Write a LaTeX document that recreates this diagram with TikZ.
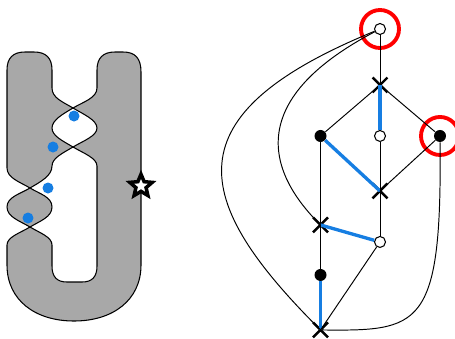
\documentclass[tikz,border=0pt]{standalone}
\usepackage{tikz}
\usetikzlibrary{positioning,shapes.misc,shapes.geometric,backgrounds}
\definecolor{shapegray}{RGB}{168,168,168}
\definecolor{edgeblue}{RGB}{22,126,226}
\tikzset{
  wdot/.style ={circle,draw,fill=white,inner sep=0pt,minimum size=2.2mm,
                line width=0.6pt},
  bdot/.style ={circle,fill=black,inner sep=0pt,minimum size=2.4mm},
  xmark/.style={cross out,draw,inner sep=0pt,minimum size=2.5mm,
                line width=1.4pt},
  ring/.style ={circle,draw=red,inner sep=0pt,minimum size=7.6mm,
                line width=2.2pt},
  pdot/.style ={circle,fill=edgeblue,inner sep=0pt,minimum size=2.2mm},
  mark5/.style={star,star points=5,star point ratio=2.2,draw,fill=white,
                inner sep=0pt,minimum size=4.7mm,line width=2pt},
  ln/.style   ={line width=0.55pt},
  bln/.style  ={draw=edgeblue,line width=1.9pt},
  blob/.style ={fill=shapegray,draw=black,line width=0.6pt},
}

\begin{document}
\begin{tikzpicture}[x=0.02cm,y=-0.02cm,on grid]
\useasboundingbox (0,0) rectangle (455,338);

% ---- left: pinched surface ---------------------------------------------
% upper left column
\draw[blob] (7,168) -- (7,70) .. controls (7,58) and (13,52) .. (25,52)
  -- (34,52) .. controls (46,52) and (52,58) .. (52,70) -- (52,88)
  .. controls (52,98) and (63,102) .. (73,108)
  .. controls (63,114) and (52,120) .. (52,128)
  .. controls (52,136) and (63,141) .. (73,147)
  .. controls (63,153) and (52,158) .. (52,166)
  .. controls (52,176) and (40,182) .. (30,188)
  .. controls (20,182) and (7,178) .. cycle;
% small lobe
\draw[blob] (30,188) .. controls (40,194) and (52,197) .. (52,207)
  .. controls (52,217) and (40,221) .. (30,227)
  .. controls (20,221) and (7,217) .. (7,207)
  .. controls (7,197) and (20,194) .. cycle;
% right column and bottom U
\draw[blob] (73,108) .. controls (83,102) and (97,98) .. (97,88) -- (97,70)
  .. controls (97,58) and (103,52) .. (115,52) -- (123,52)
  .. controls (135,52) and (141,58) .. (141,72) -- (141,265)
  .. controls (141,300) and (113,321) .. (74,321)
  .. controls (35,321) and (7,300) .. (7,265) -- (7,245)
  .. controls (7,237) and (20,233) .. (30,227)
  .. controls (40,233) and (52,237) .. (52,245) -- (52,266)
  .. controls (52,277) and (57,282) .. (67,282) -- (82,282)
  .. controls (92,282) and (97,277) .. (97,266) -- (97,166)
  .. controls (97,158) and (83,153) .. (73,147)
  .. controls (83,141) and (97,136) .. (97,128)
  .. controls (97,120) and (83,114) .. cycle;

\node[pdot] (d1) at (74,116) {};
\node[pdot] (d2) at (53,147) {};
\node[pdot] (d3) at (48,188) {};
\node[pdot] (d4) at (28,218) {};
\node[mark5] (st) at (141,186) {};

% ---- right: graph -----------------------------------------------------
\node[wdot] (TOP) at (380,29) {};
\node[xmark,below=1.12cm of TOP] (XA) {};
\node[wdot,below=1.02cm of XA] (WM) {};
\node[bdot,left=1.19cm of WM] (BL) {};
\node[bdot,right=1.2cm of WM] (BR) {};
\node[xmark,below=1.1cm of WM] (XB) {};
\node[wdot,below=1.02cm of XB] (WL) {};
\node[xmark,below=1.78cm of BL] (XC) {};
\node[bdot,below=1cm of XC] (BB) {};
\node[xmark,below=1.1cm of BB] (XD) {};

\begin{scope}[on background layer]
\node[ring] (hTOP) at (TOP) {};
\node[ring] (hBR) at (BR) {};
\end{scope}

% ---- edges ------------------------------------------------------------
\draw[ln] (TOP) -- (XA.center);
\draw[ln] (XA.center) -- (BL);
\draw[ln] (XA.center) -- (BR);
\draw[bln] (XA.center) -- (WM);
\draw[bln] (BL) -- (XB.center);
\draw[ln] (WM) -- (XB.center);
\draw[ln] (BR) -- (XB.center);
\draw[ln] (BL) -- (XC.center);
\draw[ln] (XB.center) -- (WL);
\draw[bln] (XC.center) -- (WL);
\draw[ln] (XC.center) -- (BB);
\draw[bln] (BB) -- (XD.center);
\draw[ln] (WL) -- (XD.center);
\draw[ln] (TOP) .. controls (241,102) and (270,175) .. (XC.center);
\draw[ln] (TOP) .. controls (170,115) and (190,200) .. (XD.center);
\draw[ln] (BR) .. controls (442,330) and (420,331) .. (XD.center);
\end{tikzpicture}
\end{document}
